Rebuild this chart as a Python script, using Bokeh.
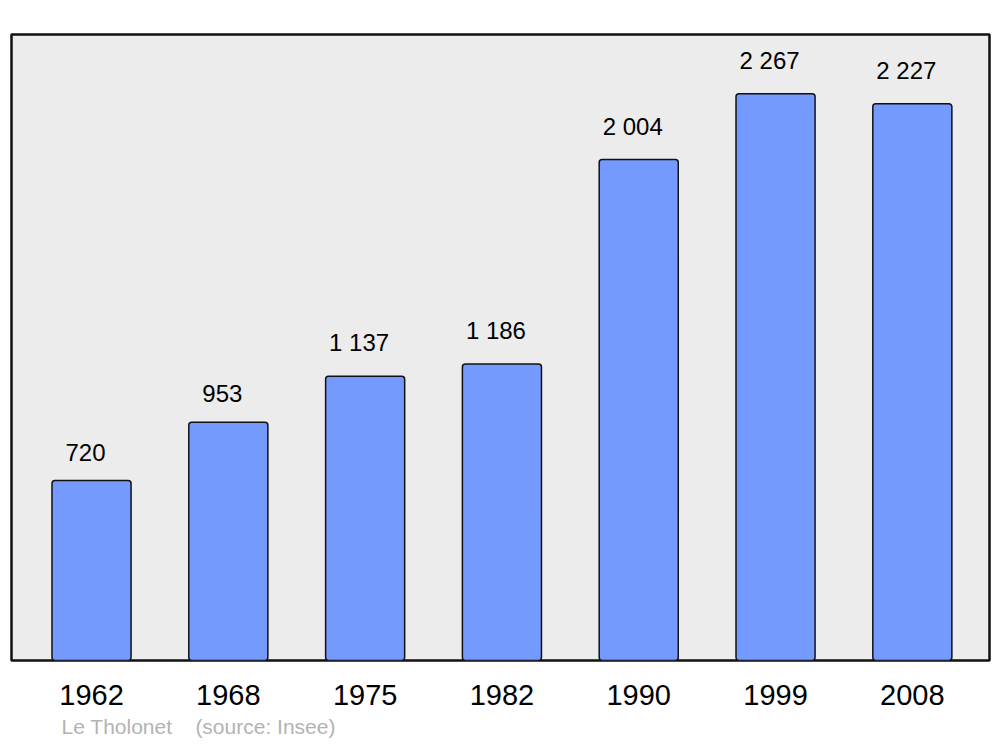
from bokeh.plotting import figure
from bokeh.models import Range1d, ColumnDataSource, Title, FixedTicker
from bokeh.core.properties import value
from bokeh.embed import file_html
from bokeh.resources import INLINE

years = ["1962", "1968", "1975", "1982", "1990", "1999", "2008"]
population = [720, 953, 1137, 1186, 2004, 2267, 2227]
labels = ["720", "953", "1 137", "1 186", "2 004", "2 267", "2 227"]
footer = "Le Tholonet\u00a0\u00a0\u00a0\u00a0(source: Insee)"

idx = list(range(len(years)))
src = ColumnDataSource(dict(x=idx, top=population, label=labels))

p = figure(width=995, height=743, output_backend="svg", toolbar_location=None,
           x_range=Range1d(-0.585, 6.564), y_range=Range1d(0, 2504),
           min_border_left=11, min_border_right=6, min_border_top=34, min_border_bottom=0)
p.background_fill_color = "#ececec"
p.border_fill_color = "white"
p.outline_line_color = "#111111"
p.outline_line_width = 2.5
p.grid.visible = False
p.yaxis.visible = False

p.vbar(x="x", top="top", bottom=0, width=0.578, source=src,
       fill_color="#7499ff", line_color="#111111", line_width=1.5, border_radius=3)

p.text(x="x", y="top", text="label", source=src, text_align="center",
       text_baseline="bottom", x_offset=-6, y_offset=-20, text_font_size="24px",
       text_font=value("Liberation Sans"), text_color="black")

ax = p.xaxis[0]
ax.ticker = FixedTicker(ticks=idx)
ax.major_label_overrides = {i: y for i, y in zip(idx, years)}
ax.axis_line_color = None
ax.major_tick_line_color = None
ax.minor_tick_line_color = None
ax.major_tick_out = 0
ax.major_tick_in = 0
ax.major_label_standoff = 24
ax.major_label_text_font_size = "29px"
ax.major_label_text_font = "Liberation Sans"
ax.major_label_text_color = "black"

p.add_layout(Title(text=footer, align="left", offset=50, text_font_size="21px",
                   text_font="Liberation Sans", text_font_style="normal",
                   text_color="#b3b3b3", standoff=11), "below")

open("out.html", "w").write(file_html(p, INLINE))
